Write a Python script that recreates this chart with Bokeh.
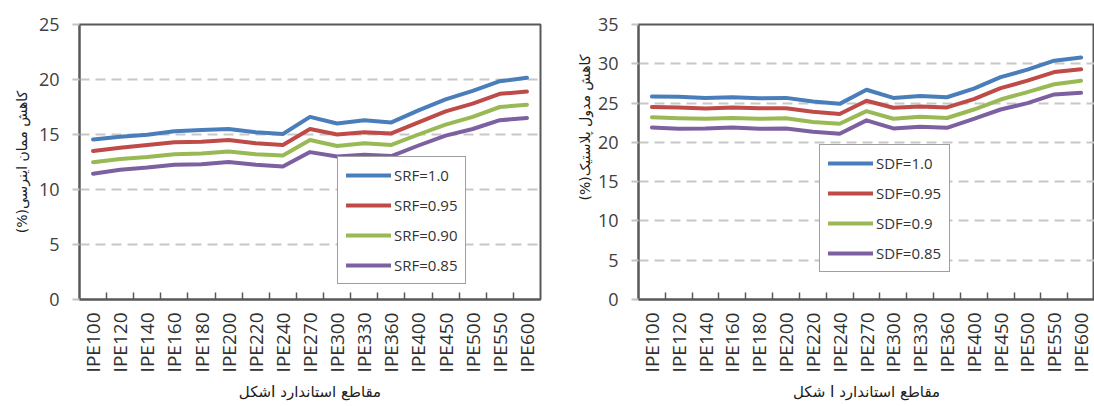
import numpy as np
from math import pi
from bokeh.plotting import figure
from bokeh.layouts import row
from bokeh.models import Range1d, FixedTicker, Title
from bokeh.embed import file_html
from bokeh.resources import INLINE

# ---------------- data ----------------
sections = ["IPE100", "IPE120", "IPE140", "IPE160", "IPE180", "IPE200", "IPE220",
            "IPE240", "IPE270", "IPE300", "IPE330", "IPE360", "IPE400", "IPE450",
            "IPE500", "IPE550", "IPE600"]

srf_labels = ["SRF=1.0", "SRF=0.95", "SRF=0.90", "SRF=0.85"]
srf_100 = [14.55, 14.8, 14.97, 15.3, 15.4, 15.5, 15.2, 15.05, 16.6, 16.0, 16.3, 16.1, 17.2, 18.2, 18.96, 19.85, 20.15]
srf_095 = [13.5, 13.8, 14.05, 14.3, 14.35, 14.5, 14.2, 14.05, 15.5, 15.0, 15.2, 15.1, 16.1, 17.1, 17.8, 18.7, 18.9]
srf_090 = [12.47, 12.77, 12.95, 13.2, 13.27, 13.45, 13.2, 13.1, 14.5, 13.96, 14.2, 14.05, 15.0, 15.9, 16.6, 17.5, 17.7]
srf_085 = [11.43, 11.8, 12.0, 12.26, 12.3, 12.5, 12.26, 12.1, 13.4, 13.0, 13.15, 13.04, 14.0, 14.9, 15.5, 16.3, 16.5]

sdf_labels = ["SDF=1.0", "SDF=0.95", "SDF=0.9", "SDF=0.85"]
sdf_100 = [25.83, 25.8, 25.66, 25.74, 25.6, 25.66, 25.2, 24.9, 26.7, 25.66, 25.9, 25.74, 26.85, 28.3, 29.25, 30.4, 30.8]
sdf_095 = [24.5, 24.45, 24.3, 24.45, 24.35, 24.35, 23.9, 23.6, 25.3, 24.4, 24.55, 24.45, 25.5, 26.9, 27.85, 28.95, 29.3]
sdf_090 = [23.2, 23.08, 23.0, 23.1, 23.0, 23.08, 22.6, 22.36, 23.97, 23.0, 23.25, 23.1, 24.18, 25.45, 26.4, 27.4, 27.85]
sdf_085 = [21.9, 21.73, 21.77, 21.9, 21.73, 21.77, 21.35, 21.1, 22.8, 21.77, 22.0, 21.85, 23.0, 24.18, 25.0, 26.1, 26.3]

y_ticks_left = [0, 5, 10, 15, 20, 25]
y_ticks_right = [0, 5, 10, 15, 20, 25, 30, 35]

left_ytitle = "کاهش ممان اینرسی(%)"
right_ytitle = "کاهش مدول پلاستیک(%)"
left_xtitle = "مقاطع استاندارد Iشکل"
right_xtitle = "مقاطع استاندارد I شکل"

colors = ["#4a7ebb", "#be4b48", "#98b954", "#7d60a0"]

RLE, PDF = "\u202b", "\u202c"
AXIS_COL = "#595959"
TXT_COL = "#404040"
PERSIAN_FONT = "DejaVu Sans"


def make_chart(series, labels, yticks, width, height, borders, legend_loc, ytitle, xtitle,
               use_title_for_y=False, ytitle_offset=0):
    n = len(sections)
    xs = np.arange(n) + 1.0
    p = figure(width=width, height=height, output_backend="svg", toolbar_location=None,
               x_range=Range1d(0.5, n + 0.5), y_range=Range1d(yticks[0], yticks[-1]),
               min_border_left=borders[0], min_border_right=borders[1],
               min_border_top=borders[2], min_border_bottom=borders[3])
    p.background_fill_color = "white"
    p.border_fill_color = "white"
    p.outline_line_color = AXIS_COL
    p.outline_line_width = 2

    for vals, lab, col in zip(series, labels, colors):
        p.line(xs, vals, line_color=col, line_width=4, line_join="round",
               line_cap="round", legend_label=lab)

    # x axis
    xa = p.xaxis[0]
    xa.ticker = FixedTicker(ticks=list(xs), minor_ticks=list(xs[:-1] + 0.5))
    xa.major_label_overrides = {float(x): s for x, s in zip(xs, sections)}
    xa.major_label_orientation = pi / 2
    xa.major_tick_line_color = None
    xa.major_tick_in = 0
    xa.major_tick_out = 0
    xa.minor_tick_in = 7
    xa.minor_tick_out = 0
    xa.minor_tick_line_color = AXIS_COL
    xa.minor_tick_line_width = 1.5
    xa.axis_line_color = AXIS_COL
    xa.axis_line_width = 2
    xa.major_label_text_font = "Open Sans"
    xa.major_label_text_font_size = "19px"
    xa.major_label_text_color = "#303030"
    xa.major_label_standoff = 13
    xa.axis_label = RLE + xtitle + PDF
    xa.axis_label_text_font = PERSIAN_FONT
    xa.axis_label_text_font_size = "15px"
    xa.axis_label_text_font_style = "normal"
    xa.axis_label_text_color = "#202020"
    xa.axis_label_standoff = 8

    # y axis
    ya = p.yaxis[0]
    ya.ticker = FixedTicker(ticks=yticks)
    ya.minor_tick_line_color = None
    ya.major_tick_in = 0
    ya.major_tick_out = 7
    ya.major_tick_line_color = "#c4c4c4"
    ya.major_tick_line_width = 2
    ya.axis_line_color = AXIS_COL
    ya.axis_line_width = 2
    ya.major_label_text_font = "Open Sans"
    ya.major_label_text_font_size = "18px"
    ya.major_label_text_color = TXT_COL
    ya.major_label_standoff = 13

    if use_title_for_y:
        t = Title(text=RLE + ytitle + PDF, align="right", offset=ytitle_offset,
                  text_font=PERSIAN_FONT, text_font_size="14px", text_font_style="normal",
                  text_color="#202020", standoff=4)
        p.add_layout(t, "left")
    else:
        ya.axis_label = RLE + ytitle + PDF
        ya.axis_label_text_font = PERSIAN_FONT
        ya.axis_label_text_font_size = "14px"
        ya.axis_label_text_font_style = "normal"
        ya.axis_label_text_color = "#202020"
        ya.axis_label_standoff = 6

    p.xgrid.grid_line_color = None
    p.ygrid.ticker = FixedTicker(ticks=yticks)
    p.ygrid.grid_line_color = "#c8c8c8"
    p.ygrid.grid_line_width = 2
    p.ygrid.grid_line_dash = "10 6"

    lg = p.legend[0]
    lg.location = legend_loc
    lg.border_line_color = "#404040"
    lg.border_line_width = 1.5
    lg.background_fill_color = "white"
    lg.background_fill_alpha = 1.0
    lg.label_text_font = "Open Sans"
    lg.label_text_font_size = "15px"
    lg.label_text_color = "#333333"
    lg.glyph_width = 45
    lg.glyph_height = 20
    lg.label_height = 20
    lg.spacing = 10
    lg.padding = 8
    lg.margin = 0
    lg.label_standoff = 3
    return p


p1 = make_chart([srf_100, srf_095, srf_090, srf_085], srf_labels, y_ticks_left,
                548, 406, (79, 8, 24, 102), (258, 15), left_ytitle, left_xtitle)
p2 = make_chart([sdf_100, sdf_095, sdf_090, sdf_085], sdf_labels, y_ticks_right,
                546, 406, (90, 0, 23, 107), (181, 27), right_ytitle, right_xtitle,
                use_title_for_y=True, ytitle_offset=30)

layout = row(p1, p2)
open("out.html", "w").write(file_html(layout, INLINE))
